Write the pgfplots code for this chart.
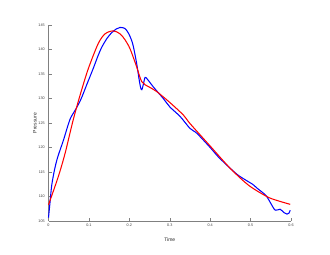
\documentclass[border=0pt]{standalone}
\usepackage{pgfplots}
\pgfplotsset{compat=1.18}
\usepackage{fontspec}
\setmainfont{Liberation Sans}
\definecolor{axgray}{RGB}{128,128,128}
\begin{document}
\begin{tikzpicture}
\useasboundingbox (-97pt,-68pt) rectangle (563pt,442pt);
\begin{axis}[
  scale only axis, width=485pt, height=392pt,
  xmin=0, xmax=0.6, ymin=105, ymax=145,
  xtick={0,0.1,0.2,0.3,0.4,0.5,0.6},
  ytick={105,110,115,120,125,130,135,140,145},
  axis x line*=bottom, axis y line*=left,
  axis line style={axgray, line width=1pt},
  tick style={axgray, line width=1pt},
  major tick length=6pt,
  tick align=inside,
  tick label style={font=\fontsize{7.5}{9}\selectfont, text=black!75},
  xticklabel style={yshift=-2pt},
  yticklabel style={xshift=-4pt},
  label style={font=\fontsize{10}{11}\selectfont, text=black!85},
  xlabel={Time}, ylabel={Pressure},
  xlabel style={at={(axis description cs:0.5,-0.097)}, anchor=center},
  ylabel style={at={(axis description cs:-0.056,0.5)}, anchor=center, rotate=0},
  /pgf/number format/assume math mode=true,
  clip=false,
]
\addplot[blue, line width=2.1pt, smooth, tension=0.5] coordinates {
(0,105.7) (0.004,109) (0.008,112.3) (0.015,115.5) (0.023,118.1) (0.037,121.5)
(0.053,125.7) (0.066,127.6) (0.08,129.8) (0.095,132.9) (0.111,136.2) (0.122,138.6) (0.132,140.5)
(0.145,142.3) (0.156,143.4) (0.168,144.2) (0.177,144.5) (0.189,144.3) (0.198,143.3)
(0.205,142) (0.210,140.6) (0.218,137.2) (0.224,134) (0.228,132.2) (0.231,131.8)
(0.235,133) (0.239,134.3) (0.245,133.9) (0.259,132.4) (0.284,130.0) (0.30,128.3)
(0.326,126.3) (0.350,123.9) (0.367,122.9) (0.40,120) (0.42,118.1) (0.449,115.8)
(0.47,114.3) (0.495,113.0) (0.505,112.5) (0.519,111.5) (0.530,110.8) (0.540,110.0)
(0.55,108.6) (0.561,107.2) (0.573,107.4) (0.583,106.7) (0.590,106.4) (0.595,106.6) (0.598,107.2)
};
\addplot[red, line width=2.1pt, smooth, tension=0.5] coordinates {
(0,108.3) (0.024,114.0) (0.041,118.8) (0.061,125.6) (0.08,131.2) (0.099,136.2)
(0.123,141.2) (0.14,143.2) (0.160,143.8) (0.177,143.2) (0.19,141.9) (0.202,140.1)
(0.218,136.5) (0.231,133.4) (0.25,132.3) (0.268,131.4) (0.30,129.2) (0.334,126.6)
(0.35,124.9) (0.40,120.3) (0.449,115.8) (0.495,112.3) (0.54,110.0) (0.565,109.2) (0.598,108.4)
};
\end{axis}
\end{tikzpicture}
\end{document}
